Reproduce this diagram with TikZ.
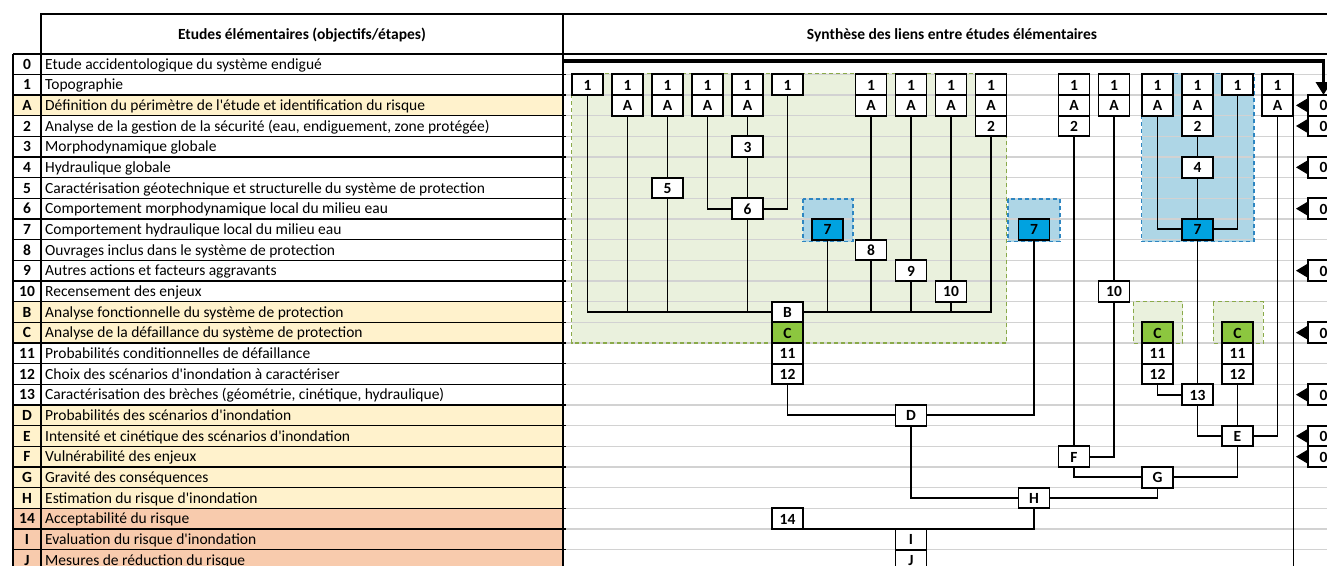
\documentclass[tikz,border=0pt]{standalone}
\usepackage{fontspec}
\setmainfont{Carlito}
\usetikzlibrary{arrows.meta}
\definecolor{rowyel}{HTML}{FFF2CC}
\definecolor{rowpch}{HTML}{F8CBAD}
\definecolor{gridc}{HTML}{D2D2D2}
\definecolor{gfill}{HTML}{EAF1DD}
\definecolor{gline}{HTML}{8AAA4A}
\definecolor{bfill}{HTML}{AED6E6}
\definecolor{bline}{HTML}{2E86C1}
\definecolor{bbox}{HTML}{00A2E0}
\definecolor{cbox}{HTML}{8CC63F}
\newcommand{\Y}[1]{64+20.667*#1}
\newcommand{\T}[1]{53.667+20.667*#1}
\newcommand{\fsz}{\fontsize{15.5}{16}\selectfont}
\newcommand{\ap}{\textquotesingle}
\tikzset{
  box/.style={draw=black, line width=1.7pt, fill=white, minimum width=31pt, minimum height=20.667pt, inner sep=0pt, outer sep=0pt, text height=11pt, text depth=0pt, font=\bfseries\fsz},
  bbx/.style={box, fill=bbox},
  cbx/.style={box, fill=cbox},
  conn/.style={line width=1.8pt, line join=miter},
  idx/.style={inner sep=0pt, text height=12pt, text depth=2pt, font=\bfseries\fsz},
  rowtxt/.style={anchor=west, inner sep=0pt, text height=12pt, text depth=2pt, font=\fsz},
  hdr/.style={inner sep=0pt, font=\bfseries\fsz},
  tab/.style={line width=1.3pt},
  gridl/.style={draw=gridc, line width=1.2pt},
  gdash/.style={draw=gline, line width=1.4pt, dash pattern=on 4pt off 3pt},
  bdash/.style={draw=bline, line width=1.4pt, dash pattern=on 4pt off 3pt},
  tri/.style={-{Triangle[length=11pt,width=13pt]}, line width=1pt},
}
\newcommand{\tabrow}[4]{%
  \fill[#4] (13,{\T{#1}}) rectangle (563,{\T{#1}+20.667});
  \node[idx] (idx#1) at (27,{\Y{#1}}) {#2};
  \node[rowtxt] (txt#1) at (45,{\Y{#1}}) {#3};}
\begin{document}
\begin{tikzpicture}[x=1pt,y=-1pt]
\useasboundingbox[fill=white] (0,0) rectangle (1327,565);
% ---- table rows
\tabrow{0}{0}{Etude accidentologique du système endigué}{white}
\tabrow{1}{1}{Topographie}{white}
\tabrow{2}{A}{Définition du périmètre de l\ap étude et identification du risque}{rowyel}
\tabrow{3}{2}{Analyse de la gestion de la sécurité (eau, endiguement, zone protégée)}{white}
\tabrow{4}{3}{Morphodynamique globale}{white}
\tabrow{5}{4}{Hydraulique globale}{white}
\tabrow{6}{5}{Caractérisation géotechnique et structurelle du système de protection}{white}
\tabrow{7}{6}{Comportement morphodynamique local du milieu eau}{white}
\tabrow{8}{7}{Comportement hydraulique local du milieu eau}{white}
\tabrow{9}{8}{Ouvrages inclus dans le système de protection}{white}
\tabrow{10}{9}{Autres actions et facteurs aggravants}{white}
\tabrow{11}{10}{Recensement des enjeux}{white}
\tabrow{12}{B}{Analyse fonctionnelle du système de protection}{rowyel}
\tabrow{13}{C}{Analyse de la défaillance du système de protection}{rowyel}
\tabrow{14}{11}{Probabilités conditionnelles de défaillance}{white}
\tabrow{15}{12}{Choix des scénarios d\ap inondation à caractériser}{white}
\tabrow{16}{13}{Caractérisation des brèches (géométrie, cinétique, hydraulique)}{white}
\tabrow{17}{D}{Probabilités des scénarios d\ap inondation}{rowyel}
\tabrow{18}{E}{Intensité et cinétique des scénarios d\ap inondation}{rowyel}
\tabrow{19}{F}{Vulnérabilité des enjeux}{rowyel}
\tabrow{20}{G}{Gravité des conséquences}{rowyel}
\tabrow{21}{H}{Estimation du risque d\ap inondation}{rowyel}
\tabrow{22}{14}{Acceptabilité du risque}{rowpch}
\tabrow{23}{I}{Evaluation du risque d\ap inondation}{rowpch}
\tabrow{24}{J}{Mesures de réduction du risque}{rowpch}
% ---- zones (fill)
\fill[gfill] (571.7,73.3) rectangle (1006.7,343);
\fill[bfill] (803,199) rectangle (853,241.7);
\fill[bfill] (1008,199) rectangle (1060,241.7);
\fill[bfill] (1141.7,73.3) rectangle (1254,241.7);
\fill[gfill] (1133.3,301.7) rectangle (1182.7,343.3);
\fill[gfill] (1213.3,301.7) rectangle (1263.3,343.3);
% ---- grid lines right column
\foreach \i in {1,...,25} \draw[gridl] (565,{\T{\i}}) -- (1327,{\T{\i}});
% ---- zones (dashed borders)
\draw[gdash] (571.7,73.3) rectangle (1006.7,343);
\draw[bdash] (803,199) rectangle (853,241.7);
\draw[bdash] (1008,199) rectangle (1060,241.7);
\draw[bdash] (1141.7,73.3) rectangle (1254,241.7);
\draw[gdash] (1133.3,301.7) rectangle (1182.7,343.3);
\draw[gdash] (1213.3,301.7) rectangle (1263.3,343.3);
% ---- table lines and headers
\foreach \i in {1,...,25} \draw[tab] (13,{\T{\i}}) -- (566,{\T{\i}});
\draw[line width=2.4pt] (13,54) -- (563,54);
\draw[tab] (13,54) -- (13,570);
\draw[tab] (41,54) -- (41,570);
\draw[tab] (563,14) -- (563,570);
\draw[tab] (41,14) rectangle (563,54);
\draw[tab] (563,14) rectangle (1340,54);
\node[hdr] (h1) at (302,35) {Etudes élémentaires (objectifs/étapes)};
\node[hdr] (h2) at (952,35) {Synthèse des liens entre études élémentaires};
% ---- top boxes
\node[box] (c1a) at (587.5,{\Y{1}}) {1};
\node[box] (c2a) at (627.5,{\Y{1}}) {1};
\node[box] (c2b) at (627.5,{\Y{2}}) {A};
\node[box] (c3a) at (667.5,{\Y{1}}) {1};
\node[box] (c3b) at (667.5,{\Y{2}}) {A};
\node[box] (c4a) at (707.5,{\Y{1}}) {1};
\node[box] (c4b) at (707.5,{\Y{2}}) {A};
\node[box] (c5a) at (747.5,{\Y{1}}) {1};
\node[box] (c5b) at (747.5,{\Y{2}}) {A};
\node[box] (c6a) at (787.5,{\Y{1}}) {1};
\node[box] (c7a) at (871,{\Y{1}}) {1};
\node[box] (c7b) at (871,{\Y{2}}) {A};
\node[box] (c8a) at (911,{\Y{1}}) {1};
\node[box] (c8b) at (911,{\Y{2}}) {A};
\node[box] (c9a) at (951,{\Y{1}}) {1};
\node[box] (c9b) at (951,{\Y{2}}) {A};
\node[box] (c10a) at (991,{\Y{1}}) {1};
\node[box] (c10b) at (991,{\Y{2}}) {A};
\node[box] (c10c) at (991,{\Y{3}}) {2};
\node[box] (c11a) at (1074,{\Y{1}}) {1};
\node[box] (c11b) at (1074,{\Y{2}}) {A};
\node[box] (c11c) at (1074,{\Y{3}}) {2};
\node[box] (c12a) at (1114,{\Y{1}}) {1};
\node[box] (c12b) at (1114,{\Y{2}}) {A};
\node[box] (c13a) at (1157.5,{\Y{1}}) {1};
\node[box] (c13b) at (1157.5,{\Y{2}}) {A};
\node[box] (c14a) at (1197.5,{\Y{1}}) {1};
\node[box] (c14b) at (1197.5,{\Y{2}}) {A};
\node[box] (c14c) at (1197.5,{\Y{3}}) {2};
\node[box] (c15a) at (1237.5,{\Y{1}}) {1};
\node[box] (c16a) at (1277.5,{\Y{1}}) {1};
\node[box] (c16b) at (1277.5,{\Y{2}}) {A};
% ---- inner boxes
\node[box] (n3) at (747.5,{\Y{4}}) {3};
\node[box] (n5) at (667.5,{\Y{6}}) {5};
\node[box] (n6) at (747.5,{\Y{7}}) {6};
\node[bbx] (s7a) at (827.5,{\Y{8}}) {7};
\node[box] (n8) at (871,{\Y{9}}) {8};
\node[box] (n9) at (911,{\Y{10}}) {9};
\node[box] (n10a) at (951,{\Y{11}}) {10};
\node[box] (nB) at (787.5,{\Y{12}}) {B};
\node[cbx] (nCa) at (787.5,{\Y{13}}) {C};
\node[box] (n11a) at (787.5,{\Y{14}}) {11};
\node[box] (n12a) at (787.5,{\Y{15}}) {12};
\node[bbx] (s7b) at (1034,{\Y{8}}) {7};
\node[box] (n10b) at (1114,{\Y{11}}) {10};
\node[box] (n4) at (1197.5,{\Y{5}}) {4};
\node[bbx] (s7c) at (1197.5,{\Y{8}}) {7};
\node[cbx] (nCb) at (1157.5,{\Y{13}}) {C};
\node[box] (n11b) at (1157.5,{\Y{14}}) {11};
\node[box] (n12b) at (1157.5,{\Y{15}}) {12};
\node[cbx] (nCc) at (1237.5,{\Y{13}}) {C};
\node[box] (n11c) at (1237.5,{\Y{14}}) {11};
\node[box] (n12c) at (1237.5,{\Y{15}}) {12};
\node[box] (n13) at (1197.5,{\Y{16}}) {13};
\node[box] (nD) at (911,{\Y{17}}) {D};
\node[box] (nE) at (1237.5,{\Y{18}}) {E};
\node[box] (nF) at (1074,{\Y{19}}) {F};
\node[box] (nG) at (1157.5,{\Y{20}}) {G};
\node[box] (nH) at (1034,{\Y{21}}) {H};
\node[box] (n14) at (787.5,{\Y{22}}) {14};
\node[box] (nI) at (911,{\Y{23}}) {I};
\node[box] (nJ) at (911,{\Y{24}}) {J};
% ---- zero boxes
\foreach \z in {2,3,5,7,10,13,16,18,19}
  \node[box] (z\z) at (1323.5,{\Y{\z}}) {0};
% ---- connectors
\draw[conn] (c1a.south) |- (nB.west);
\draw[conn] (c2b.south) |- (nB.west);
\draw[conn] (c3b.south) -- (n5.north);
\draw[conn] (n5.south) |- (nB.west);
\draw[conn] (c4b.south) |- (n6.west);
\draw[conn] (c5b.south) -- (n3.north);
\draw[conn] (n3.south) -- (n6.north);
\draw[conn] (c6a.south) |- (n6.east);
\draw[conn] (n6.south) |- (nB.west);
\draw[conn] (s7a.south) |- (nB.east);
\draw[conn] (c7b.south) -- (n8.north);
\draw[conn] (n8.south) |- (nB.east);
\draw[conn] (c8b.south) -- (n9.north);
\draw[conn] (n9.south) |- (nB.east);
\draw[conn] (c9b.south) -- (n10a.north);
\draw[conn] (n10a.south) |- (nB.east);
\draw[conn] (c10c.south) |- (nB.east);
\draw[conn] (n12a.south) |- (nD.west);
\draw[conn] (s7b.south) |- (nD.east);
\draw[conn] (nD.south) |- (nH.west);
\draw[conn] (nH.south) |- (n14.south east);
\draw[conn] (c11c.south) -- (nF.north);
\draw[conn] (c12b.south) -- (n10b.north);
\draw[conn] (n10b.south) |- (nF.east);
\draw[conn] (c13b.south) |- (s7c.west);
\draw[conn] (c14c.south) -- (n4.north);
\draw[conn] (n4.south) -- (s7c.north);
\draw[conn] (c15a.south) |- (s7c.east);
\draw[conn] (c16b.south) |- (nE.east);
\draw[conn] (s7c.south) -- (n13.north);
\draw[conn] (n12b.south) |- (n13.west);
\draw[conn] (n13.south) |- (nE.west);
\draw[conn] (n12c.south) -- (nE.north);
\draw[conn] (nE.south) |- (nG.east);
\draw[conn] (nF.south) |- (nG.west);
\draw[conn] (nG.south) |- (nH.east);
% ---- feedback arrow and pointers
\coordinate (arrstart) at (563,61);
\draw[line width=3.5pt, line join=miter, -{Triangle[length=13pt,width=15pt]}] (arrstart) -| (z2.north);
\coordinate (vtop) at (1293.5,116);
\coordinate (vbot) at (1293.5,570);
\draw[conn] (vtop) -- (vbot);
\foreach \z in {2,3,5,7,10,13,16,18,19}
  \draw[tri] (z\z.west) -- ++(-12,0);
\end{tikzpicture}
\end{document}
